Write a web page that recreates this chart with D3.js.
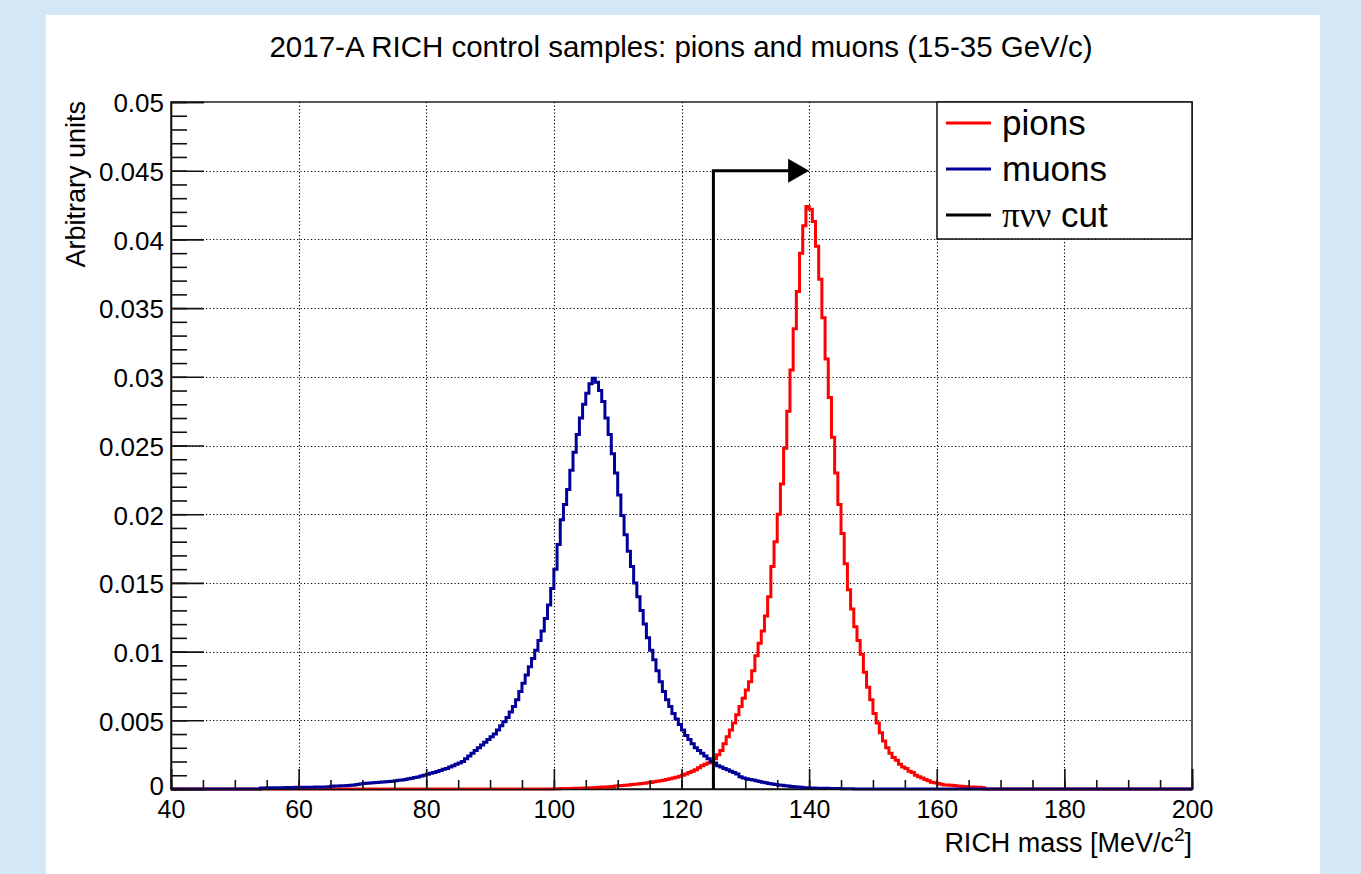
<!DOCTYPE html>
<html>
<head>
<meta charset="utf-8">
<script src="https://cdn.jsdelivr.net/npm/d3@7"></script>
<style>
  html, body { margin: 0; padding: 0; background: #d3e7f5; }
  svg { display: block; }
  text { font-family: "Liberation Sans", Arial, Helvetica, sans-serif; fill: #000; }
</style>
</head>
<body>
<svg id="chart" width="1361" height="874"></svg>
<script>
// ---- data -------------------------------------------------------------
const titleText = "2017-A RICH control samples: pions and muons (15-35 GeV/c)";
const binWidth = 0.5;                 // MeV/c^2 per histogram bin
const massDomain = [40, 200];
const unitsDomain = [0, 0.05];
const xTickValues = [40, 60, 80, 100, 120, 140, 160, 180, 200];
const xTickLabels = ["40", "60", "80", "100", "120", "140", "160", "180", "200"];
const yTickValues = [0, 0.005, 0.01, 0.015, 0.02, 0.025, 0.03, 0.035, 0.04, 0.045, 0.05];
const yTickLabels = ["0", "0.005", "0.01", "0.015", "0.02", "0.025", "0.03", "0.035", "0.04", "0.045", "0.05"];

// muon sample: bin contents starting at the bin whose low edge is muonFirstBin
const muonFirstBin = 54.0;
const muonValues = [
  0.00008,0.00008,0.00009,0.00009,0.0001,0.0001,0.0001,0.0001,0.00011,0.00011,0.00011,0.00012,0.00012,0.00012,0.00013,0.00013,0.00013,0.00014,0.00014,0.00015,0.00015,0.00016,
  0.0002,0.00021,0.00022,0.00023,0.00024,0.00026,0.00028,0.0003,0.00033,0.00036,
  0.0004,0.00041,0.00043,0.00045,0.00047,0.00049,0.00051,0.00053,0.00055,0.00057,
  0.0006,0.00063,0.00066,0.0007,0.00074,0.00078,0.00083,0.00088,0.00094,0.001,
  0.00108,0.00115,0.0012,0.00127,0.00135,0.00143,0.0015,0.0016,0.0017,0.0018,
  0.0019,0.002,0.0022,0.0024,0.0026,0.0028,0.003,0.0032,0.0034,0.0036,
  0.0038,0.004,0.0043,0.0046,0.0049,0.0052,0.0056,0.006,0.0065,0.0071,
  0.0077,0.0083,0.0089,0.0095,0.0101,0.0108,0.0115,0.0124,0.0134,0.0146,
  0.0160,0.0178,0.0196,0.0207,0.0218,0.0232,0.0245,0.0258,0.0270,0.0280,
  0.0288,0.0295,0.0299,0.0296,0.0290,0.0282,0.0270,0.0258,0.0244,0.0230,
  0.0214,0.0199,0.0185,0.0173,0.0162,0.0150,0.0140,0.0130,0.0120,0.0110,
  0.0101,0.0094,0.0086,0.0078,0.0071,0.0065,0.0060,0.0055,0.0051,0.0047,
  0.0043,0.0039,0.0036,0.0033,0.0030,0.0028,0.0026,0.0024,0.0022,0.0020,
  0.0019,0.0017,0.0016,0.0015,0.0014,0.0013,0.0012,0.0011,0.0009,0.0008,
  0.00075,0.0007,0.00065,0.0006,0.00055,0.0005,0.00045,0.0004,0.00036,0.00033,
  0.0003,0.00027,0.00024,0.00021,0.00018,0.00016,0.00014,0.00012,0.0001,0.00009,
  0.00008,0.00007,0.00006,0.00006,0.00005,0.00005,0.00004,0.00004,0.00003,0.00003,0.00002,0.00002,0.00002,0.00001
];

// pion sample
const pionFirstBin = 100.0;
const pionValues = [
  0.00002,0.00002,0.00003,0.00003,0.00004,0.00004,0.00005,0.00005,0.00006,0.00007,0.00008,0.00009,0.0001,0.00011,
  0.00012,0.00014,0.00015,0.00017,0.00019,0.00021,0.00023,0.00025,0.00027,0.0003,0.00032,0.00035,
  0.00037,0.0004,0.00042,0.00045,0.00048,0.00052,0.00056,0.0006,0.00064,0.00069,0.00074,0.0008,0.00086,0.00093,
  0.001,0.0011,0.0012,0.0013,0.0014,0.00155,0.0017,0.0018,0.0019,0.002,
  0.0022,0.0025,0.0028,0.0033,0.0038,0.0043,0.0048,0.0054,0.006,0.0066,
  0.0072,0.0078,0.0086,0.0097,0.0106,0.0115,0.0126,0.0140,0.0162,0.0180,
  0.0200,0.0222,0.0248,0.0275,0.0305,0.0335,0.0362,0.0390,0.0410,0.0424,
  0.0422,0.0413,0.0395,0.0371,0.0343,0.0313,0.0285,0.0256,0.0230,0.0207,
  0.0186,0.0164,0.0145,0.0131,0.0118,0.0108,0.0098,0.0085,0.0074,0.0065,
  0.0055,0.0048,0.0041,0.0035,0.0030,0.0026,0.0023,0.0021,0.0018,0.0016,
  0.0015,0.0013,0.0012,0.0010,0.0009,0.0008,0.0007,0.0006,0.0005,0.00045,
  0.0004,0.00035,0.0003,0.0003,0.00028,0.00025,0.00022,0.0002,0.00018,0.00016,
  0.00015,0.00014,0.00013,0.00012,0.0001
];

// selection cut drawn as an arrow
const cutMass = 125;
const cutLevel = 0.045;
const cutArrowTo = 140;

const legendNames = ["pions", "muons", "cut"];
const seriesColors = { pions: "#ff0000", muons: "#000099", cut: "#000000" };

// ---- layout -----------------------------------------------------------
const svg = d3.select("#chart");
const plot = { left: 171, right: 1192, top: 102, bottom: 789 };

svg.append("rect").attr("x", 46).attr("y", 15).attr("width", 1274).attr("height", 874 - 15).attr("fill", "#ffffff");

const x = d3.scaleLinear().domain(massDomain).range([plot.left, plot.right]);
const y = d3.scaleLinear().domain(unitsDomain).range([plot.bottom, plot.top]);

// dotted grid at the major ticks
const grid = svg.append("g").attr("stroke", "#000").attr("stroke-width", 1.1).attr("stroke-dasharray", "1.2,2.3");
grid.selectAll("line.gx").data(xTickValues.slice(1, -1)).join("line")
  .attr("x1", d => Math.round(x(d)) + 0.5).attr("x2", d => Math.round(x(d)) + 0.5)
  .attr("y1", plot.top).attr("y2", plot.bottom);
grid.selectAll("line.gy").data(yTickValues.slice(1, -1)).join("line")
  .attr("y1", d => Math.round(y(d)) + 0.5).attr("y2", d => Math.round(y(d)) + 0.5)
  .attr("x1", plot.left).attr("x2", plot.right);

// frame
svg.append("rect").attr("x", plot.left).attr("y", plot.top)
  .attr("width", plot.right - plot.left).attr("height", plot.bottom - plot.top)
  .attr("fill", "none").attr("stroke", "#222").attr("stroke-width", 1.5);

// ---- histograms (step lines over the full axis range) ----------------
function fullBins(firstBin, values) {
  const n = Math.round((massDomain[1] - massDomain[0]) / binWidth);
  const start = Math.round((firstBin - massDomain[0]) / binWidth);
  const bins = [];
  for (let i = 0; i < n; i++) {
    const j = i - start;
    bins.push({ lo: massDomain[0] + i * binWidth, v: (j >= 0 && j < values.length) ? values[j] : 0 });
  }
  bins.push({ lo: massDomain[1], v: bins[bins.length - 1].v });
  return bins;
}
const stepLine = d3.line().x(d => x(d.lo)).y(d => y(d.v)).curve(d3.curveStepAfter);

svg.append("path").datum(fullBins(pionFirstBin, pionValues))
  .attr("d", stepLine).attr("fill", "none")
  .attr("stroke", seriesColors.pions).attr("stroke-width", 3).attr("stroke-linejoin", "miter");
svg.append("path").datum(fullBins(muonFirstBin, muonValues))
  .attr("d", stepLine).attr("fill", "none")
  .attr("stroke", seriesColors.muons).attr("stroke-width", 3).attr("stroke-linejoin", "miter");

// ---- axes -------------------------------------------------------------
const yMinor = d3.range(0, 51).map(i => i * 0.001);
const xMinor = d3.range(40, 201, 5);

const yAxis = svg.append("g").attr("transform", `translate(${plot.left},0)`)
  .call(d3.axisLeft(y).tickValues(yTickValues).tickSize(-33).tickPadding(7)
    .tickFormat((d, i) => yTickLabels[i]));
svg.append("g").attr("transform", `translate(${plot.left},0)`)
  .call(d3.axisLeft(y).tickValues(yMinor).tickSize(-16).tickFormat(""))
  .call(g => g.select(".domain").remove());
const xAxis = svg.append("g").attr("transform", `translate(0,${plot.bottom})`)
  .call(d3.axisBottom(x).tickValues(xTickValues).tickSize(-20).tickPadding(11)
    .tickFormat((d, i) => xTickLabels[i]));
svg.append("g").attr("transform", `translate(0,${plot.bottom})`)
  .call(d3.axisBottom(x).tickValues(xMinor).tickSize(-9).tickFormat(""))
  .call(g => g.select(".domain").remove());

svg.selectAll(".tick line").attr("stroke", "#111").attr("stroke-width", 1.6);
svg.selectAll(".domain").attr("stroke", "#111").attr("stroke-width", 1.6);
yAxis.selectAll(".tick text").attr("font-size", 26).attr("dy", "0.38em")
  .attr("font-family", "'Liberation Sans', Arial, sans-serif");
// the zero label sits just above the first mass label
yAxis.selectAll(".tick text").filter(d => d === 0).attr("dy", "0.2em");
xAxis.selectAll(".tick text").attr("font-size", 25)
  .attr("font-family", "'Liberation Sans', Arial, sans-serif");

// ---- cut arrow --------------------------------------------------------
svg.append("path")
  .attr("d", `M${x(cutMass)},${y(0)} V${y(cutLevel)} H${x(cutArrowTo) - 18}`)
  .attr("fill", "none").attr("stroke", seriesColors.cut).attr("stroke-width", 3)
  .attr("stroke-linejoin", "miter");
svg.append("path")
  .attr("d", `M${x(cutArrowTo)},${y(cutLevel)} L${x(cutArrowTo) - 21},${y(cutLevel) - 12} L${x(cutArrowTo) - 21},${y(cutLevel) + 12} Z`)
  .attr("fill", seriesColors.cut);

// ---- titles -----------------------------------------------------------
svg.append("text").attr("x", 681).attr("y", 57).attr("text-anchor", "middle")
  .attr("font-size", 29.5).text(titleText);

svg.append("text").attr("transform", `translate(85,${plot.top - 1}) rotate(-90)`)
  .attr("text-anchor", "end").attr("font-size", 27).text("Arbitrary units");

const xTitle = svg.append("text").attr("x", plot.right).attr("y", 852)
  .attr("text-anchor", "end").attr("font-size", 27);
xTitle.append("tspan").text("RICH mass [MeV/c");
xTitle.append("tspan").attr("font-size", 19).attr("dy", -11).text("2");
xTitle.append("tspan").attr("dy", 11).text("]");

// ---- legend -----------------------------------------------------------
const legend = svg.append("g");
legend.append("rect").attr("x", 937).attr("y", plot.top).attr("width", plot.right - 937).attr("height", 137)
  .attr("fill", "#fff").attr("stroke", "#111").attr("stroke-width", 1.5);
const legendY = [123, 169, 215];
legendNames.forEach((name, i) => {
  legend.append("line").attr("x1", 946).attr("x2", 991)
    .attr("y1", legendY[i]).attr("y2", legendY[i])
    .attr("stroke", seriesColors[name]).attr("stroke-width", 3);
  const t = legend.append("text").attr("x", 1002).attr("y", legendY[i] + 12).attr("font-size", 35);
  if (name === "cut") {
    t.append("tspan").attr("font-family", "'Liberation Serif', 'DejaVu Serif', serif").text("\u03c0\u03bd\u03bd");
    t.append("tspan").text(" cut");
  } else {
    t.text(name);
  }
});
</script>
</body>
</html>
